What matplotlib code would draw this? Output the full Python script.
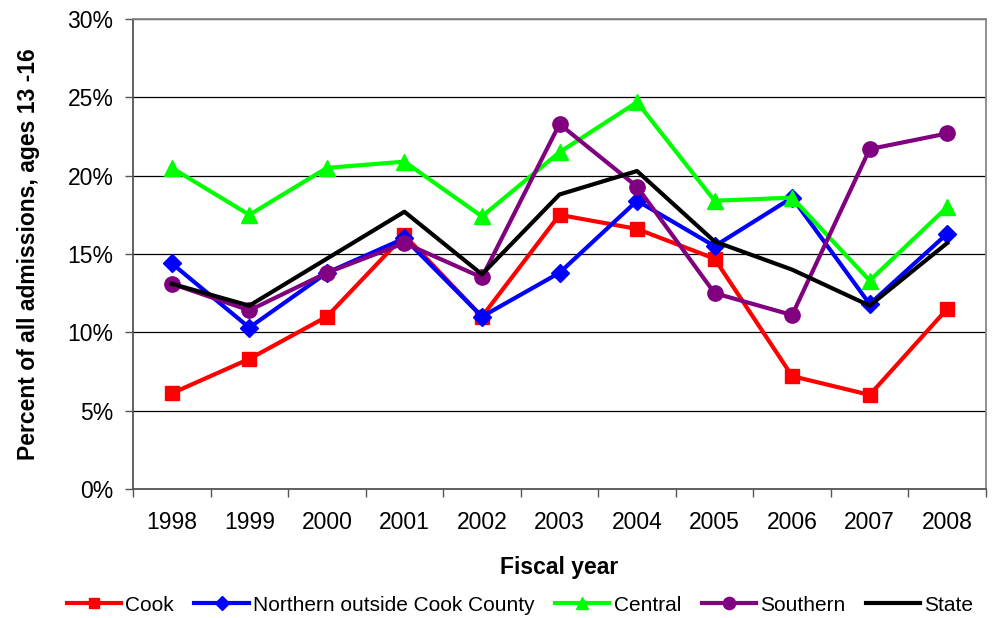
import matplotlib
matplotlib.use("Agg")
import matplotlib.pyplot as plt
from matplotlib.ticker import FixedLocator, PercentFormatter

plt.rcParams['font.family'] = ['Liberation Sans', 'DejaVu Sans']

years = ['1998', '1999', '2000', '2001', '2002', '2003', '2004', '2005', '2006', '2007', '2008']
cook = [6.1, 8.3, 11.0, 16.2, 11.0, 17.5, 16.6, 14.7, 7.2, 6.0, 11.5]
northern = [14.4, 10.3, 13.8, 16.0, 11.0, 13.8, 18.4, 15.5, 18.6, 11.8, 16.3]
central = [20.5, 17.5, 20.5, 20.9, 17.4, 21.5, 24.7, 18.4, 18.6, 13.3, 18.0]
southern = [13.1, 11.4, 13.8, 15.7, 13.5, 23.3, 19.3, 12.5, 11.1, 21.7, 22.7]
state = [13.1, 11.7, 14.7, 17.7, 13.7, 18.8, 20.3, 15.8, 14.0, 11.7, 15.7]

fig = plt.figure(figsize=(10, 6.18), dpi=100)
ax = fig.add_axes([0.133, 0.209, 0.853, 0.76])

x = list(range(len(years)))
lw = 3.0
ax.plot(x, cook, color='#ff0000', lw=lw, marker='s', ms=9.5, label='Cook')
ax.plot(x, northern, color='#0000ff', lw=lw, marker='D', ms=9, label='Northern outside Cook County')
ax.plot(x, central, color='#00ff00', lw=lw, marker='^', ms=11, label='Central')
ax.plot(x, southern, color='#800080', lw=lw, marker='o', ms=11, label='Southern')
ax.plot(x, state, color='#000000', lw=lw, label='State')

ax.set_xlim(-0.5, len(years) - 0.5)
ax.set_ylim(0, 30)
ax.set_yticks(range(0, 31, 5))
ax.yaxis.set_major_formatter(PercentFormatter(decimals=0))
ax.yaxis.grid(True, color='black', lw=0.9)
ax.set_axisbelow(True)

ax.set_xticks(x)
ax.set_xticklabels(years)
ax.xaxis.set_minor_locator(FixedLocator([i - 0.5 for i in range(len(years) + 1)]))
ax.tick_params(axis='x', which='major', length=0, pad=16, labelsize=16.5)
ax.tick_params(axis='x', which='minor', length=6, color='#555555', width=1)
ax.tick_params(axis='y', length=6, color='#555555', width=1, labelsize=16.5, pad=8)

for s in ax.spines.values():
    s.set_color('#888888')
    s.set_linewidth(1.3)
ax.spines['left'].set_color('#555555')
ax.spines['bottom'].set_color('#555555')

ax.set_xlabel('Fiscal year', fontsize=16.5, fontweight='bold', labelpad=16)
ax.set_ylabel('Percent of all admissions, ages 13 -16', fontsize=16.5, fontweight='bold', labelpad=20)

fig.legend(loc='center', bbox_to_anchor=(0.52, 0.021), ncol=5, frameon=False,
           fontsize=15, handlelength=2.6, handletextpad=0.2, columnspacing=1.0,
           markerscale=0.8)

fig.savefig('out.png', dpi=100)
